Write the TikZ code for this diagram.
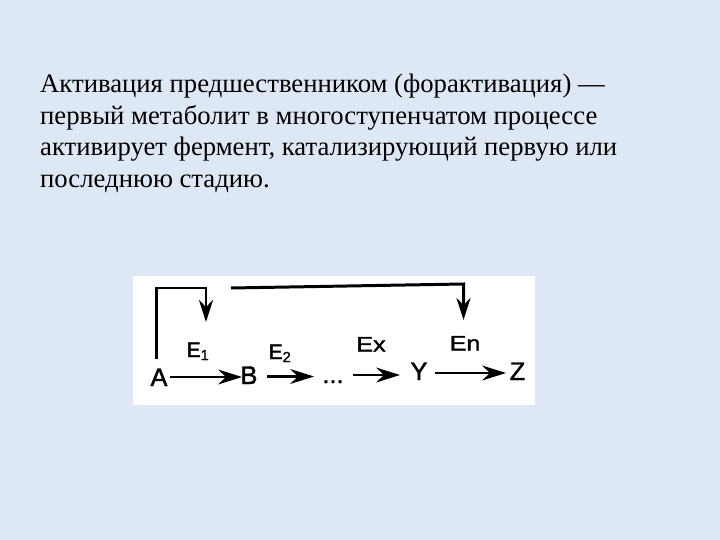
\documentclass[tikz,border=0pt]{standalone}
\usepackage{fontspec}
\setmainfont{Liberation Serif}
\newfontfamily\diagfont[FakeBold=1.6]{Liberation Sans}
\usetikzlibrary{arrows.meta}
\definecolor{bgblue}{HTML}{DDE8F4}
\tikzset{
  rowlbl/.style={font=\diagfont\fontsize{25.5}{25.5}\selectfont, inner sep=0pt, anchor=base},
  elbl/.style={font=\diagfont\fontsize{21}{21}\selectfont, inner sep=0pt, anchor=base},
  wide/.style={xscale=1.2, transform shape},
  flow/.style={line width=2.4pt, -{Stealth[length=24pt,width=15pt,inset=8pt]}},
  fb/.style={line width=3pt, line join=miter},
  fbarrow/.style={line width=3pt, -{Stealth[length=22pt,width=14pt,inset=7pt]}},
  body/.style={font=\fontsize{26.8}{31.6}\selectfont, inner sep=0pt, anchor=north west, align=left}
}
\begin{document}
\begin{tikzpicture}[x=1bp,y=-1bp]
\fill[bgblue] (0,0) rectangle (720,540);
\useasboundingbox (0,0) rectangle (720,540);
\fill[white] (133,276) rectangle (535,405);
\node[body] (txt) at (40,74) {Активация предшественником (форактивация) —\\первый метаболит в многоступенчатом процессе\\активирует фермент, катализирующий первую или\\последнюю стадию.};
% row
\node[rowlbl] (A) at (159,386) {A};
\node[rowlbl] (B) at (249,384) {B};
\node[rowlbl] (dots) at (333,383) {...};
\node[rowlbl] (Y) at (419,380) {Y};
\node[rowlbl] (Z) at (517.5,380) {Z};
\node[elbl] (E1) at (198,357) {E\textsubscript{1}};
\node[elbl] (E2) at (280,359) {E\textsubscript{2}};
\node[elbl, wide] (Ex) at (371,351.5) {Ex};
\node[elbl, wide] (En) at (465,350.5) {En};
\coordinate (a1) at (170,377);
\coordinate (a2) at (242,377);
\coordinate (b1) at (267,376.5);
\coordinate (b2) at (314,376.5);
\coordinate (x1) at (353,375);
\coordinate (x2) at (400,375);
\coordinate (y1) at (435,373);
\coordinate (y2) at (506,373);
\draw[flow] (a1) -- (a2);
\draw[flow] (b1) -- (b2);
\draw[flow] (x1) -- (x2);
\draw[flow] (y1) -- (y2);
% feedback
\coordinate (c1) at (156.5,359);
\coordinate (c2) at (156.5,288);
\coordinate (c3) at (206,288);
\coordinate (c4) at (206,322);
\draw[fb] (c1) -- (c2) -- (c3) -- (206,306);
\draw[fbarrow] (206,298) -- (c4);
\coordinate (d1) at (231,288);
\coordinate (d2) at (463.5,284);
\coordinate (d3) at (463.5,320);
\draw[fb] (d1) -- (d2) -- (463.5,303);
\draw[fbarrow] (463.5,296) -- (d3);
\end{tikzpicture}
\end{document}
